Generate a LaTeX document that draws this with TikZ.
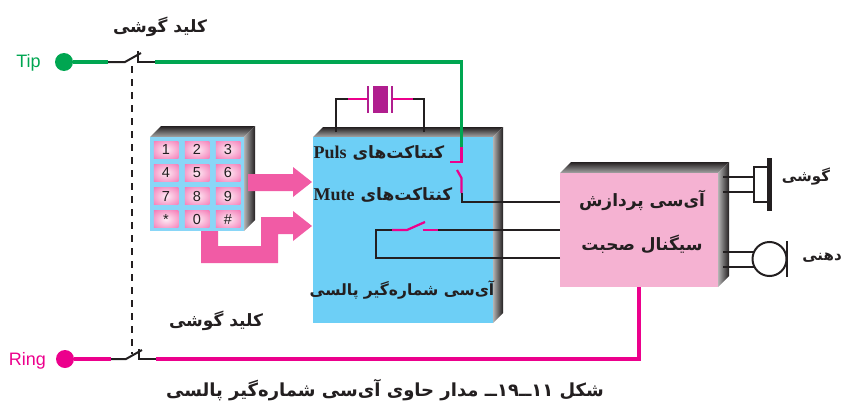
\documentclass[tikz,border=0pt]{standalone}
\usepackage{fontspec}
\setmainfont{Liberation Serif}
\setsansfont{Liberation Sans}
\newfontfamily\farsi[Script=Arabic]{DejaVu Sans}
\TeXXeTstate=1
\definecolor{tipgreen}{HTML}{00A651}
\definecolor{ringpink}{HTML}{EC008C}
\definecolor{arrowpink}{HTML}{F15BA5}
\definecolor{xtalpurple}{HTML}{B01E8E}
\definecolor{icblue}{HTML}{6DCFF6}
\definecolor{padblue}{HTML}{89D6F7}
\definecolor{icpink}{HTML}{F5B2D2}
\definecolor{inkdark}{HTML}{231F20}
\pgfdeclareradialshading{keyglow}{\pgfpoint{0bp}{0bp}}{color(0bp)=(arrowpink!12); color(42bp)=(arrowpink!90); color(100bp)=(arrowpink)}
\tikzset{
  wire/.style={line width=2pt,draw=inkdark},
  greenwire/.style={line width=3.2pt,draw=tipgreen},
  pinkwire/.style={line width=3.2pt,draw=ringpink},
  contact/.style={line width=2.2pt,draw=ringpink},
  dot/.style={circle,inner sep=0pt,minimum size=18pt},
  icbox/.style={rectangle,inner sep=0pt,anchor=north west},
  keycap/.style={rectangle,inner sep=0pt,minimum width=24.5pt,minimum height=17pt,
    shading=keyglow,text=inkdark,font=\sffamily\fontsize{14.5}{14.5}\selectfont},
  fatext/.style={font=\farsi\bfseries\fontsize{17}{20}\selectfont,text=inkdark,inner sep=0pt},
  fasmall/.style={fatext,font=\farsi\bfseries\fontsize{15}{18}\selectfont},
  famid/.style={fatext,font=\farsi\bfseries\fontsize{15.5}{18}\selectfont},
  facaption/.style={fatext,font=\farsi\bfseries\fontsize{18}{20}\selectfont},
  linelabel/.style={font=\sffamily\fontsize{18}{18}\selectfont,inner sep=0pt}
}
\newcommand{\latinbold}[1]{{\normalfont\bfseries\fontsize{18}{20}\selectfont #1}}
% top and right faces of a block: x1,y1,x2,y2,depth
\newcommand{\blockfaces}[5]{%
  \shade[top color=inkdark,bottom color=black!35] (#1,#2) -- (#1+#5,#2-#5) -- (#3+#5,#2-#5) -- (#3,#2) -- cycle;
  \shade[left color=black!30,right color=inkdark] (#3,#2) -- (#3+#5,#2-#5) -- (#3+#5,#4-#5) -- (#3,#4) -- cycle;
}
\begin{document}
\begin{tikzpicture}[x=1pt,y=-1pt]
  \useasboundingbox (0,0) rectangle (845,412);
  % blocks
  \blockfaces{150}{137}{244}{231}{11}
  \node[icbox,fill=padblue,minimum width=94pt,minimum height=94pt] (pad) at (150,137) {};
  \blockfaces{313}{137}{493}{323}{10}
  \node[icbox,fill=icblue,minimum width=180pt,minimum height=186pt] (dialer) at (313,137) {};
  \blockfaces{560}{173}{718}{287}{11}
  \node[icbox,fill=icpink,minimum width=158pt,minimum height=114pt] (speech) at (560,173) {};
  % keypad
  \foreach \keyname [count=\k from 0] in {1,2,3,4,5,6,7,8,9,*,0,\#} {
    \pgfmathtruncatemacro{\col}{mod(\k,3)}
    \pgfmathtruncatemacro{\row}{div(\k,3)}
    \node[keycap] (key\k) at (166+31*\col,149.5+23.3*\row) {\keyname};
  }
  % arrows from keypad to dialer
  \fill[arrowpink] (248,174) -- (293,174) -- (293,167) -- (312,182) -- (293,197) -- (293,191) -- (248,191) -- cycle;
  \fill[arrowpink] (201,231) -- (218,231) -- (218,246) -- (261,246) -- (261,217) -- (293,217) -- (293,211)
    -- (312,226) -- (293,241) -- (293,234) -- (278,234) -- (278,263) -- (201,263) -- cycle;
  % line ends
  \node[dot,fill=tipgreen] (tipdot) at (64,62) {};
  \node[dot,fill=ringpink] (ringdot) at (65,359) {};
  \node[linelabel,text=tipgreen] (tiplabel) at (28.5,63) {Tip};
  \node[linelabel,text=ringpink] (ringlabel) at (27.5,361) {Ring};
  % hook switch, tip side
  \coordinate (tipa) at (108,62);
  \coordinate (tipb) at (125,62);
  \coordinate (tipc) at (141,53);
  \coordinate (tipd) at (138,51);
  \coordinate (tipe) at (138,62);
  \coordinate (tipf) at (155,62);
  \coordinate (tipg) at (461.5,62);
  \coordinate (tiph) at (461.5,147);
  \draw[greenwire] (tipdot) -- (tipa);
  \draw[wire] (tipa) -- (tipb) -- (tipc);
  \draw[wire] (tipd) -- (tipe) -- (tipf);
  \draw[greenwire] (tipf) -- (tipg) -- (tiph);
  % hook switch, ring side
  \coordinate (ringa) at (111,359);
  \coordinate (ringb) at (126,359);
  \coordinate (ringc) at (142,350);
  \coordinate (ringd) at (139,349);
  \coordinate (ringe) at (139,359);
  \coordinate (ringf) at (156,359);
  \coordinate (ringg) at (639,359);
  \coordinate (ringh) at (639,287);
  \draw[pinkwire] (ringdot) -- (ringa);
  \draw[wire] (ringa) -- (ringb) -- (ringc);
  \draw[wire] (ringd) -- (ringe) -- (ringf);
  \draw[pinkwire] (ringf) -- (ringg) -- (ringh);
  \coordinate (linktop) at (132,66);
  \coordinate (linkbot) at (132,354);
  \draw[line width=2pt,draw=inkdark,dash pattern=on 7pt off 6pt] (linktop) -- (linkbot);
  % crystal
  \coordinate (xl) at (336,132);
  \coordinate (xr) at (424,132);
  \coordinate (xlt) at (336,99);
  \coordinate (xrt) at (424,99);
  \coordinate (xlm) at (348,99);
  \coordinate (xrm) at (413,99);
  \coordinate (xlp) at (368,99);
  \coordinate (xrp) at (392,99);
  \draw[wire] (xl) -- (xlt) -- (xlm);
  \draw[wire] (xr) -- (xrt) -- (xrm);
  \draw[contact] (xlm) -- (xlp);
  \draw[contact] (xrm) -- (xrp);
  \draw[line width=2.4pt,draw=xtalpurple] (368,86) -- (368,113);
  \draw[line width=2.4pt,draw=xtalpurple] (392,86) -- (392,113);
  \node[rectangle,fill=xtalpurple,inner sep=0pt,minimum width=15pt,minimum height=27pt] (xtal) at (380,99.5) {};
  % puls contact
  \coordinate (pa) at (461.5,147);
  \coordinate (pb) at (461.5,162);
  \coordinate (pc) at (450,162);
  \coordinate (pd) at (457,170);
  \coordinate (pe) at (461.5,178);
  \coordinate (pf) at (461.5,193);
  \coordinate (pg) at (461.5,202);
  \coordinate (ph) at (560,202);
  \draw[contact] (pa) -- (pb) -- (pc);
  \draw[contact] (pd) -- (pe) -- (pf);
  \draw[wire] (pf) -- (pg) -- (ph);
  % mute contact
  \coordinate (ma) at (560,258);
  \coordinate (mb) at (376,258);
  \coordinate (mc) at (376,230);
  \coordinate (md) at (392,230);
  \coordinate (me) at (407,230);
  \coordinate (mf) at (425,222);
  \coordinate (mg) at (423,230);
  \coordinate (mh) at (438,230);
  \coordinate (mi) at (560,230);
  \draw[wire] (ma) -- (mb) -- (mc) -- (md);
  \draw[contact] (md) -- (me) -- (mf);
  \draw[contact] (mg) -- (mh);
  \draw[wire] (mh) -- (mi);
  % earpiece
  \node[rectangle,draw=inkdark,line width=2pt,fill=white,inner sep=0pt,minimum width=15pt,minimum height=35pt] (ear) at (761,184.5) {};
  \coordinate (eara) at (769.5,158);
  \coordinate (earb) at (769.5,211);
  \draw[line width=5pt,draw=inkdark] (eara) -- (earb);
  \coordinate (ea) at (723,177);
  \coordinate (eb) at (723,192);
  \draw[wire] (ea) -- (ea-|ear.west);
  \draw[wire] (eb) -- (eb-|ear.west);
  % mouthpiece
  \node[circle,draw=inkdark,line width=2pt,inner sep=0pt,minimum size=34pt] (mic) at (769.5,259) {};
  \coordinate (mica) at (787,241);
  \coordinate (micb) at (787,277);
  \draw[wire] (mica) -- (micb);
  \coordinate (ma2) at (723,252);
  \coordinate (mb2) at (723,267);
  \draw[wire] (ma2) -- (754,252);
  \draw[wire] (mb2) -- (754,267);
  % texts
  \node[fatext] (hooktop) at (160,27) {\beginR کلید گوشی\endR};
  \node[fatext] (hookbot) at (216,321) {\beginR کلید گوشی\endR};
  \node[fatext] (pulstxt) at (379,153) {\beginR کنتاکت‌های \beginL\latinbold{Puls}\endL\endR};
  \node[fatext] (mutetxt) at (383,195) {\beginR کنتاکت‌های \beginL\latinbold{Mute}\endL\endR};
  \node[famid] (dialtxt) at (402,290) {\beginR آی‌سی شماره‌گیر پالسی\endR};
  \node[fatext] (speecha) at (642,200) {\beginR آی‌سی پردازش\endR};
  \node[fatext] (speechb) at (642,244) {\beginR سیگنال صحبت\endR};
  \node[fasmall] (eartxt) at (806,177) {\beginR گوشی\endR};
  \node[fasmall] (mictxt) at (822,258) {\beginR دهنی\endR};
  \node[facaption] (caption) at (385,390) {\beginR شکل ۱۱ــ\beginL ۱۹\endL ــ مدار حاوی آی‌سی شماره‌گیر پالسی\endR};
\end{tikzpicture}
\end{document}
